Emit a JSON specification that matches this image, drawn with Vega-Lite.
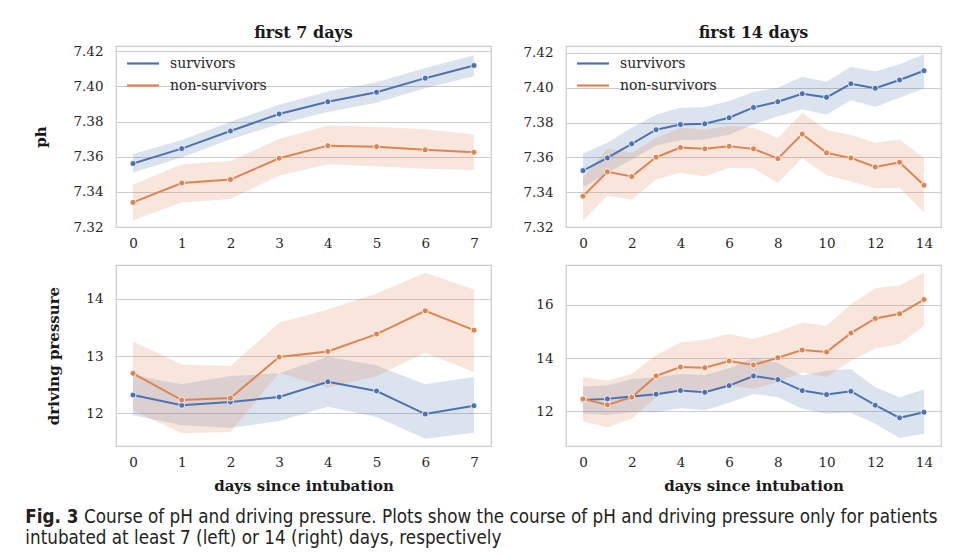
{
  "$schema": "https://vega.github.io/schema/vega-lite/v6.json",
  "padding": {"left": 25, "top": 24, "right": 10, "bottom": 5},
  "background": "white",
  "title": {
    "text": "Fig. 3",
    "orient": "bottom",
    "anchor": "start",
    "frame": "bounds",
    "offset": 14,
    "dx": -8,
    "font": "DejaVu Sans Condensed, sans-serif",
    "fontSize": 18.7,
    "fontWeight": "bold",
    "color": "#231f20",
    "subtitle": [
      "\u200b\u00a0\u00a0\u00a0\u00a0\u00a0\u00a0\u00a0\u00a0\u00a0\u00a0\u00a0Course of pH and driving pressure. Plots show the course of pH and driving pressure only for patients",
      "intubated at least 7 (left) or 14 (right) days, respectively"
    ],
    "subtitleFont": "DejaVu Sans Condensed, sans-serif",
    "subtitleFontSize": 18.7,
    "subtitleColor": "#231f20",
    "subtitlePadding": -18.7,
    "subtitleLineHeight": 21
  },
  "columns": 2,
  "bounds": "flush",
  "spacing": {"row": 38, "column": 75},
  "resolve": {"legend": {"color": "independent"}},
  "concat": [
    {
      "width": 375, "height": 181,
      "title": {"text": "first 7 days", "offset": 3},
      "data": {"name": "d"},
      "transform": [{"filter": "datum.panel === 'ph7'"}],
      "encoding": {
        "x": {"field": "day", "type": "quantitative", "scale": {"domain": [-0.35, 7.35], "nice": false, "zero": false}, "axis": {"values": [0, 1, 2, 3, 4, 5, 6, 7], "title": null, "format": "d"}}
      },
      "layer": [
        {"mark": {"type": "area", "opacity": 0.2}, "encoding": {"y": {"field": "lower", "type": "quantitative", "scale": {"domain": [7.32, 7.423], "nice": false, "zero": false}, "axis": {"values": [7.32, 7.34, 7.36, 7.38, 7.40, 7.42], "format": ".2f", "title": "ph"}}, "y2": {"field": "upper"}, "fill": {"field": "group", "type": "nominal", "scale": {"domain": ["survivors", "non-survivors"], "range": ["#4c72b0", "#dd8452"]}, "legend": null}}},
        {"mark": {"type": "line", "strokeWidth": 2}, "encoding": {"y": {"field": "mean", "type": "quantitative", "axis": {"values": [7.32, 7.34, 7.36, 7.38, 7.40, 7.42], "format": ".2f", "title": "ph"}}, "color": {"field": "group", "type": "nominal", "scale": {"domain": ["survivors", "non-survivors"], "range": ["#4c72b0", "#dd8452"]}, "legend": {"title": null}}}},
        {"mark": {"type": "point", "filled": true, "size": 36, "opacity": 1, "stroke": "white", "strokeWidth": 0.8}, "encoding": {"y": {"field": "mean", "type": "quantitative", "axis": {"values": [7.32, 7.34, 7.36, 7.38, 7.40, 7.42], "format": ".2f", "title": "ph"}}, "fill": {"field": "group", "type": "nominal", "scale": {"domain": ["survivors", "non-survivors"], "range": ["#4c72b0", "#dd8452"]}, "legend": null}}}
      ]
    },
    {
      "width": 375, "height": 181,
      "title": {"text": "first 14 days", "offset": 5},
      "data": {"name": "d"},
      "transform": [{"filter": "datum.panel === 'ph14'"}],
      "encoding": {
        "x": {"field": "day", "type": "quantitative", "scale": {"domain": [-0.7, 14.7], "nice": false, "zero": false}, "axis": {"values": [0, 2, 4, 6, 8, 10, 12, 14], "title": null, "format": "d"}}
      },
      "layer": [
        {"mark": {"type": "area", "opacity": 0.2}, "encoding": {"y": {"field": "lower", "type": "quantitative", "scale": {"domain": [7.32, 7.424], "nice": false, "zero": false}, "axis": {"values": [7.32, 7.34, 7.36, 7.38, 7.40, 7.42], "format": ".2f", "title": null}}, "y2": {"field": "upper"}, "fill": {"field": "group", "type": "nominal", "scale": {"domain": ["survivors", "non-survivors"], "range": ["#4c72b0", "#dd8452"]}, "legend": null}}},
        {"mark": {"type": "line", "strokeWidth": 2}, "encoding": {"y": {"field": "mean", "type": "quantitative", "axis": {"values": [7.32, 7.34, 7.36, 7.38, 7.40, 7.42], "format": ".2f", "title": null}}, "color": {"field": "group", "type": "nominal", "scale": {"domain": ["survivors", "non-survivors"], "range": ["#4c72b0", "#dd8452"]}, "legend": {"title": null}}}},
        {"mark": {"type": "point", "filled": true, "size": 36, "opacity": 1, "stroke": "white", "strokeWidth": 0.8}, "encoding": {"y": {"field": "mean", "type": "quantitative", "axis": {"values": [7.32, 7.34, 7.36, 7.38, 7.40, 7.42], "format": ".2f", "title": null}}, "fill": {"field": "group", "type": "nominal", "scale": {"domain": ["survivors", "non-survivors"], "range": ["#4c72b0", "#dd8452"]}, "legend": null}}}
      ]
    },
    {
      "width": 375, "height": 181,
      "data": {"name": "d"},
      "transform": [{"filter": "datum.panel === 'dp7'"}],
      "encoding": {
        "x": {"field": "day", "type": "quantitative", "scale": {"domain": [-0.35, 7.35], "nice": false, "zero": false}, "axis": {"values": [0, 1, 2, 3, 4, 5, 6, 7], "title": "days since intubation", "format": "d"}}
      },
      "layer": [
        {"mark": {"type": "area", "opacity": 0.2}, "encoding": {"y": {"field": "lower", "type": "quantitative", "scale": {"domain": [11.43, 14.59], "nice": false, "zero": false}, "axis": {"values": [12, 13, 14], "format": "d", "title": "driving pressure"}}, "y2": {"field": "upper"}, "fill": {"field": "group", "type": "nominal", "scale": {"domain": ["survivors", "non-survivors"], "range": ["#4c72b0", "#dd8452"]}, "legend": null}}},
        {"mark": {"type": "line", "strokeWidth": 2}, "encoding": {"y": {"field": "mean", "type": "quantitative", "axis": {"values": [12, 13, 14], "format": "d", "title": "driving pressure"}}, "stroke": {"field": "group", "type": "nominal", "scale": {"domain": ["survivors", "non-survivors"], "range": ["#4c72b0", "#dd8452"]}, "legend": null}}},
        {"mark": {"type": "point", "filled": true, "size": 36, "opacity": 1, "stroke": "white", "strokeWidth": 0.8}, "encoding": {"y": {"field": "mean", "type": "quantitative", "axis": {"values": [12, 13, 14], "format": "d", "title": "driving pressure"}}, "fill": {"field": "group", "type": "nominal", "scale": {"domain": ["survivors", "non-survivors"], "range": ["#4c72b0", "#dd8452"]}, "legend": null}}}
      ]
    },
    {
      "width": 375, "height": 181,
      "data": {"name": "d"},
      "transform": [{"filter": "datum.panel === 'dp14'"}],
      "encoding": {
        "x": {"field": "day", "type": "quantitative", "scale": {"domain": [-0.7, 14.7], "nice": false, "zero": false}, "axis": {"values": [0, 2, 4, 6, 8, 10, 12, 14], "title": "days since intubation", "format": "d"}}
      },
      "layer": [
        {"mark": {"type": "area", "opacity": 0.2}, "encoding": {"y": {"field": "lower", "type": "quantitative", "scale": {"domain": [10.69, 17.5], "nice": false, "zero": false}, "axis": {"values": [12, 14, 16], "format": "d", "title": null}}, "y2": {"field": "upper"}, "fill": {"field": "group", "type": "nominal", "scale": {"domain": ["survivors", "non-survivors"], "range": ["#4c72b0", "#dd8452"]}, "legend": null}}},
        {"mark": {"type": "line", "strokeWidth": 2}, "encoding": {"y": {"field": "mean", "type": "quantitative", "axis": {"values": [12, 14, 16], "format": "d", "title": null}}, "stroke": {"field": "group", "type": "nominal", "scale": {"domain": ["survivors", "non-survivors"], "range": ["#4c72b0", "#dd8452"]}, "legend": null}}},
        {"mark": {"type": "point", "filled": true, "size": 36, "opacity": 1, "stroke": "white", "strokeWidth": 0.8}, "encoding": {"y": {"field": "mean", "type": "quantitative", "axis": {"values": [12, 14, 16], "format": "d", "title": null}}, "fill": {"field": "group", "type": "nominal", "scale": {"domain": ["survivors", "non-survivors"], "range": ["#4c72b0", "#dd8452"]}, "legend": null}}}
      ]
    }
  ],
  "datasets": {
    "d": [
      {"panel": "ph7", "group": "survivors", "day": 0, "mean": 7.3561, "lower": 7.3510, "upper": 7.3616},
      {"panel": "ph7", "group": "survivors", "day": 1, "mean": 7.3646, "lower": 7.3595, "upper": 7.3695},
      {"panel": "ph7", "group": "survivors", "day": 2, "mean": 7.3746, "lower": 7.3699, "upper": 7.3799},
      {"panel": "ph7", "group": "survivors", "day": 3, "mean": 7.3843, "lower": 7.3786, "upper": 7.3896},
      {"panel": "ph7", "group": "survivors", "day": 4, "mean": 7.3913, "lower": 7.3854, "upper": 7.3971},
      {"panel": "ph7", "group": "survivors", "day": 5, "mean": 7.3967, "lower": 7.3907, "upper": 7.4024},
      {"panel": "ph7", "group": "survivors", "day": 6, "mean": 7.4047, "lower": 7.3990, "upper": 7.4105},
      {"panel": "ph7", "group": "survivors", "day": 7, "mean": 7.4119, "lower": 7.4058, "upper": 7.4177},
      {"panel": "ph7", "group": "non-survivors", "day": 0, "mean": 7.3340, "lower": 7.3238, "upper": 7.3440},
      {"panel": "ph7", "group": "non-survivors", "day": 1, "mean": 7.3450, "lower": 7.3340, "upper": 7.3557},
      {"panel": "ph7", "group": "non-survivors", "day": 2, "mean": 7.3470, "lower": 7.3359, "upper": 7.3576},
      {"panel": "ph7", "group": "non-survivors", "day": 3, "mean": 7.3591, "lower": 7.3493, "upper": 7.3701},
      {"panel": "ph7", "group": "non-survivors", "day": 4, "mean": 7.3663, "lower": 7.3557, "upper": 7.3777},
      {"panel": "ph7", "group": "non-survivors", "day": 5, "mean": 7.3657, "lower": 7.3544, "upper": 7.3771},
      {"panel": "ph7", "group": "non-survivors", "day": 6, "mean": 7.3639, "lower": 7.3531, "upper": 7.3756},
      {"panel": "ph7", "group": "non-survivors", "day": 7, "mean": 7.3625, "lower": 7.3525, "upper": 7.3726},

      {"panel": "ph14", "group": "survivors", "day": 0, "mean": 7.3524, "lower": 7.3428, "upper": 7.3622},
      {"panel": "ph14", "group": "survivors", "day": 1, "mean": 7.3597, "lower": 7.3511, "upper": 7.3684},
      {"panel": "ph14", "group": "survivors", "day": 2, "mean": 7.3678, "lower": 7.3588, "upper": 7.3770},
      {"panel": "ph14", "group": "survivors", "day": 3, "mean": 7.3759, "lower": 7.3668, "upper": 7.3847},
      {"panel": "ph14", "group": "survivors", "day": 4, "mean": 7.3789, "lower": 7.3699, "upper": 7.3885},
      {"panel": "ph14", "group": "survivors", "day": 5, "mean": 7.3793, "lower": 7.3703, "upper": 7.3889},
      {"panel": "ph14", "group": "survivors", "day": 6, "mean": 7.3828, "lower": 7.3732, "upper": 7.3924},
      {"panel": "ph14", "group": "survivors", "day": 7, "mean": 7.3887, "lower": 7.3789, "upper": 7.3975},
      {"panel": "ph14", "group": "survivors", "day": 8, "mean": 7.3920, "lower": 7.3837, "upper": 7.4000},
      {"panel": "ph14", "group": "survivors", "day": 9, "mean": 7.3966, "lower": 7.3876, "upper": 7.4064},
      {"panel": "ph14", "group": "survivors", "day": 10, "mean": 7.3945, "lower": 7.3847, "upper": 7.4035},
      {"panel": "ph14", "group": "survivors", "day": 11, "mean": 7.4023, "lower": 7.3929, "upper": 7.4121},
      {"panel": "ph14", "group": "survivors", "day": 12, "mean": 7.3997, "lower": 7.3891, "upper": 7.4093},
      {"panel": "ph14", "group": "survivors", "day": 13, "mean": 7.4045, "lower": 7.3943, "upper": 7.4135},
      {"panel": "ph14", "group": "survivors", "day": 14, "mean": 7.4098, "lower": 7.3997, "upper": 7.4192},
      {"panel": "ph14", "group": "non-survivors", "day": 0, "mean": 7.3377, "lower": 7.3238, "upper": 7.3482},
      {"panel": "ph14", "group": "non-survivors", "day": 1, "mean": 7.3517, "lower": 7.3380, "upper": 7.3651},
      {"panel": "ph14", "group": "non-survivors", "day": 2, "mean": 7.3490, "lower": 7.3357, "upper": 7.3626},
      {"panel": "ph14", "group": "non-survivors", "day": 3, "mean": 7.3601, "lower": 7.3473, "upper": 7.3712},
      {"panel": "ph14", "group": "non-survivors", "day": 4, "mean": 7.3657, "lower": 7.3511, "upper": 7.3770},
      {"panel": "ph14", "group": "non-survivors", "day": 5, "mean": 7.3649, "lower": 7.3492, "upper": 7.3760},
      {"panel": "ph14", "group": "non-survivors", "day": 6, "mean": 7.3664, "lower": 7.3540, "upper": 7.3780},
      {"panel": "ph14", "group": "non-survivors", "day": 7, "mean": 7.3649, "lower": 7.3536, "upper": 7.3770},
      {"panel": "ph14", "group": "non-survivors", "day": 8, "mean": 7.3593, "lower": 7.3453, "upper": 7.3712},
      {"panel": "ph14", "group": "non-survivors", "day": 9, "mean": 7.3734, "lower": 7.3597, "upper": 7.3856},
      {"panel": "ph14", "group": "non-survivors", "day": 10, "mean": 7.3626, "lower": 7.3498, "upper": 7.3757},
      {"panel": "ph14", "group": "non-survivors", "day": 11, "mean": 7.3597, "lower": 7.3463, "upper": 7.3728},
      {"panel": "ph14", "group": "non-survivors", "day": 12, "mean": 7.3545, "lower": 7.3421, "upper": 7.3684},
      {"panel": "ph14", "group": "non-survivors", "day": 13, "mean": 7.3572, "lower": 7.3425, "upper": 7.3703},
      {"panel": "ph14", "group": "non-survivors", "day": 14, "mean": 7.3440, "lower": 7.3284, "upper": 7.3597},

      {"panel": "dp7", "group": "survivors", "day": 0, "mean": 12.320, "lower": 11.965, "upper": 12.663},
      {"panel": "dp7", "group": "survivors", "day": 1, "mean": 12.140, "lower": 11.791, "upper": 12.506},
      {"panel": "dp7", "group": "survivors", "day": 2, "mean": 12.198, "lower": 11.750, "upper": 12.651},
      {"panel": "dp7", "group": "survivors", "day": 3, "mean": 12.285, "lower": 11.866, "upper": 12.698},
      {"panel": "dp7", "group": "survivors", "day": 4, "mean": 12.552, "lower": 12.116, "upper": 12.988},
      {"panel": "dp7", "group": "survivors", "day": 5, "mean": 12.390, "lower": 11.936, "upper": 12.837},
      {"panel": "dp7", "group": "survivors", "day": 6, "mean": 11.988, "lower": 11.558, "upper": 12.506},
      {"panel": "dp7", "group": "survivors", "day": 7, "mean": 12.134, "lower": 11.663, "upper": 12.634},
      {"panel": "dp7", "group": "non-survivors", "day": 0, "mean": 12.698, "lower": 12.050, "upper": 13.256},
      {"panel": "dp7", "group": "non-survivors", "day": 1, "mean": 12.233, "lower": 11.651, "upper": 12.855},
      {"panel": "dp7", "group": "non-survivors", "day": 2, "mean": 12.267, "lower": 11.674, "upper": 12.826},
      {"panel": "dp7", "group": "non-survivors", "day": 3, "mean": 12.983, "lower": 12.709, "upper": 13.581},
      {"panel": "dp7", "group": "non-survivors", "day": 4, "mean": 13.081, "lower": 12.448, "upper": 13.814},
      {"panel": "dp7", "group": "non-survivors", "day": 5, "mean": 13.384, "lower": 12.651, "upper": 14.093},
      {"panel": "dp7", "group": "non-survivors", "day": 6, "mean": 13.791, "lower": 13.058, "upper": 14.453},
      {"panel": "dp7", "group": "non-survivors", "day": 7, "mean": 13.453, "lower": 12.721, "upper": 14.163},

      {"panel": "dp14", "group": "survivors", "day": 0, "mean": 12.425, "lower": 11.900, "upper": 12.925},
      {"panel": "dp14", "group": "survivors", "day": 1, "mean": 12.463, "lower": 11.863, "upper": 12.963},
      {"panel": "dp14", "group": "survivors", "day": 2, "mean": 12.550, "lower": 11.963, "upper": 13.213},
      {"panel": "dp14", "group": "survivors", "day": 3, "mean": 12.638, "lower": 11.963, "upper": 13.275},
      {"panel": "dp14", "group": "survivors", "day": 4, "mean": 12.775, "lower": 12.113, "upper": 13.400},
      {"panel": "dp14", "group": "survivors", "day": 5, "mean": 12.713, "lower": 12.038, "upper": 13.363},
      {"panel": "dp14", "group": "survivors", "day": 6, "mean": 12.963, "lower": 12.313, "upper": 13.613},
      {"panel": "dp14", "group": "survivors", "day": 7, "mean": 13.325, "lower": 12.650, "upper": 14.000},
      {"panel": "dp14", "group": "survivors", "day": 8, "mean": 13.188, "lower": 12.525, "upper": 13.813},
      {"panel": "dp14", "group": "survivors", "day": 9, "mean": 12.775, "lower": 12.088, "upper": 13.338},
      {"panel": "dp14", "group": "survivors", "day": 10, "mean": 12.625, "lower": 11.900, "upper": 13.525},
      {"panel": "dp14", "group": "survivors", "day": 11, "mean": 12.750, "lower": 11.938, "upper": 13.588},
      {"panel": "dp14", "group": "survivors", "day": 12, "mean": 12.225, "lower": 11.525, "upper": 12.900},
      {"panel": "dp14", "group": "survivors", "day": 13, "mean": 11.750, "lower": 10.988, "upper": 12.525},
      {"panel": "dp14", "group": "survivors", "day": 14, "mean": 11.963, "lower": 11.150, "upper": 12.813},
      {"panel": "dp14", "group": "non-survivors", "day": 0, "mean": 12.463, "lower": 11.625, "upper": 13.275},
      {"panel": "dp14", "group": "non-survivors", "day": 1, "mean": 12.238, "lower": 11.400, "upper": 13.150},
      {"panel": "dp14", "group": "non-survivors", "day": 2, "mean": 12.525, "lower": 11.713, "upper": 13.400},
      {"panel": "dp14", "group": "non-survivors", "day": 3, "mean": 13.325, "lower": 12.525, "upper": 14.113},
      {"panel": "dp14", "group": "non-survivors", "day": 4, "mean": 13.663, "lower": 12.838, "upper": 14.588},
      {"panel": "dp14", "group": "non-survivors", "day": 5, "mean": 13.638, "lower": 12.775, "upper": 14.688},
      {"panel": "dp14", "group": "non-survivors", "day": 6, "mean": 13.888, "lower": 12.963, "upper": 14.900},
      {"panel": "dp14", "group": "non-survivors", "day": 7, "mean": 13.738, "lower": 12.838, "upper": 14.713},
      {"panel": "dp14", "group": "non-survivors", "day": 8, "mean": 14.013, "lower": 13.088, "upper": 14.988},
      {"panel": "dp14", "group": "non-survivors", "day": 9, "mean": 14.300, "lower": 13.463, "upper": 15.338},
      {"panel": "dp14", "group": "non-survivors", "day": 10, "mean": 14.225, "lower": 13.275, "upper": 15.213},
      {"panel": "dp14", "group": "non-survivors", "day": 11, "mean": 14.938, "lower": 13.900, "upper": 16.025},
      {"panel": "dp14", "group": "non-survivors", "day": 12, "mean": 15.488, "lower": 14.363, "upper": 16.625},
      {"panel": "dp14", "group": "non-survivors", "day": 13, "mean": 15.663, "lower": 14.525, "upper": 16.738},
      {"panel": "dp14", "group": "non-survivors", "day": 14, "mean": 16.200, "lower": 15.213, "upper": 17.213}
    ]
  },
  "config": {
    "font": "DejaVu Serif",
    "view": {"stroke": "#cccccc", "strokeWidth": 1.25},
    "axis": {
      "labelFont": "DejaVu Serif", "labelFontSize": 13.5, "labelColor": "#262626", "labelOverlap": false,
      "titleFont": "DejaVu Serif", "titleFontSize": 15, "titleFontWeight": "bold", "titleColor": "#1a1a1a",
      "domain": false, "ticks": false, "gridColor": "#cccccc", "gridWidth": 1
    },
    "axisX": {"grid": false, "labelPadding": 9, "titlePadding": 10},
    "axisY": {"grid": true, "labelPadding": 13, "titlePadding": 24},
    "title": {"font": "DejaVu Serif", "fontSize": 16, "fontWeight": "bold", "color": "#1a1a1a", "offset": 3},
    "legend": {
      "orient": "top-left", "offset": 8, "padding": 0,
      "labelFont": "DejaVu Serif", "labelFontSize": 14, "labelColor": "#262626",
      "symbolType": "M-2,0H2", "symbolSize": 256, "symbolStrokeWidth": 2.2,
      "symbolOffset": 9.5, "labelOffset": 17.5, "rowPadding": 5
    }
  }
}
